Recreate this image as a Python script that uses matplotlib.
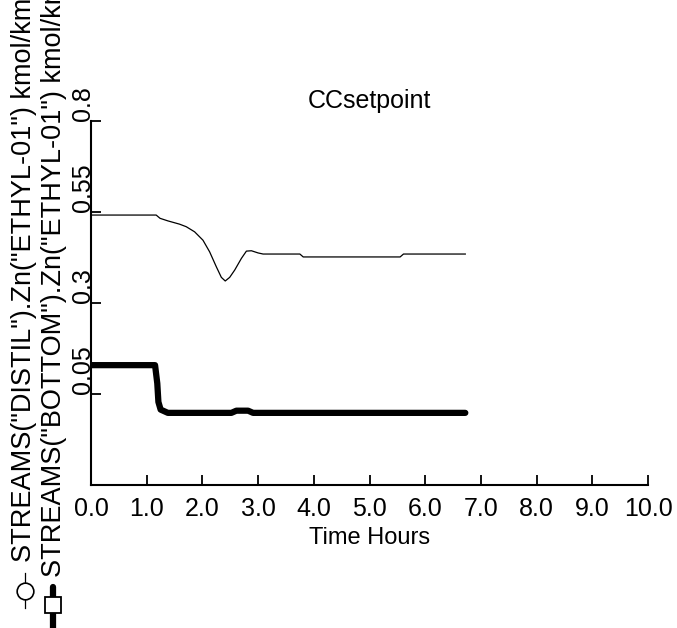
import matplotlib
matplotlib.use("Agg")
import matplotlib.pyplot as plt
from matplotlib.lines import Line2D

plt.rcParams['font.family'] = ['Liberation Sans', 'DejaVu Sans']

# Distillate ethylene mole fraction (thin line)
distil_t = [0.0, 1.17, 1.24, 1.38, 1.59, 1.71, 1.86, 2.01, 2.13, 2.25, 2.34, 2.41,
            2.49, 2.58, 2.70, 2.79, 2.88, 3.00, 3.09, 3.75, 3.81, 5.55, 5.61, 6.72]
distil_z = [0.541, 0.541, 0.532, 0.525, 0.516, 0.509, 0.495, 0.472, 0.440, 0.399, 0.370, 0.360,
            0.370, 0.390, 0.422, 0.442, 0.443, 0.437, 0.434, 0.434, 0.426, 0.426, 0.434, 0.434]

# Bottoms ethylene mole fraction (thick line)
bottom_t = [0.0, 1.15, 1.19, 1.21, 1.25, 1.38, 2.52, 2.61, 2.82, 2.91, 6.72]
bottom_z = [0.129, 0.129, 0.079, 0.028, 0.007, -0.002, -0.002, 0.004, 0.004, -0.002, -0.002]

x_ticks = [0, 1, 2, 3, 4, 5, 6, 7, 8, 9, 10]
y_ticks = [0.05, 0.3, 0.55, 0.8]

fig = plt.figure(figsize=(6.77, 6.28), dpi=100)
ax = fig.add_axes([91 / 677, 143 / 628, 557 / 677, 364.3 / 628])

ax.plot(distil_t, distil_z, color='black', lw=0.9)
ax.plot(bottom_t, bottom_z, color='black', lw=4.5, solid_capstyle='round', solid_joinstyle='round')

ax.set_xlim(0, 10)
ax.set_ylim(-0.2, 0.8)
ax.set_xticks(x_ticks)
ax.set_xticklabels(['%.1f' % v for v in x_ticks])
ax.set_yticks(y_ticks)
ax.set_yticklabels([str(v) for v in y_ticks], rotation=90, va='bottom', ha='right')

for side in ('top', 'right'):
    ax.spines[side].set_visible(False)
for side in ('left', 'bottom'):
    ax.spines[side].set_linewidth(1.5)

ax.tick_params(axis='both', direction='in', length=7, width=1.3, labelsize=18)
ax.tick_params(axis='x', pad=9)
ax.tick_params(axis='y', pad=-3)

ax.set_title('CCsetpoint', fontsize=18, pad=9)
ax.set_xlabel('Time Hours', fontsize=17, labelpad=4)

# Stacked y-axis labels with their line symbols underneath
fig.text(24 / 677, 1 - 562 / 628, 'STREAMS("DISTIL").Zn("ETHYL-01") kmol/kmol',
         rotation=90, ha='center', va='bottom', fontsize=19.5)
fig.text(54 / 677, 1 - 577 / 628, 'STREAMS("BOTTOM").Zn("ETHYL-01") kmol/kmol',
         rotation=90, ha='center', va='bottom', fontsize=19.5)

fig.add_artist(Line2D([25 / 677, 25 / 677], [1 - 573 / 628, 1 - 608 / 628],
                      color='black', lw=0.9))
fig.add_artist(Line2D([25 / 677], [1 - 591 / 628], marker='o', markersize=12,
                      markerfacecolor='white', markeredgecolor='black', markeredgewidth=1.2))
fig.add_artist(Line2D([53 / 677, 53 / 677], [1 - 587 / 628, 0.0],
                      color='black', lw=4.5, solid_capstyle='round'))
fig.add_artist(Line2D([53 / 677], [1 - 605 / 628], marker='s', markersize=11,
                      markerfacecolor='white', markeredgecolor='black', markeredgewidth=1.3))

fig.savefig('out.png', dpi=100)
